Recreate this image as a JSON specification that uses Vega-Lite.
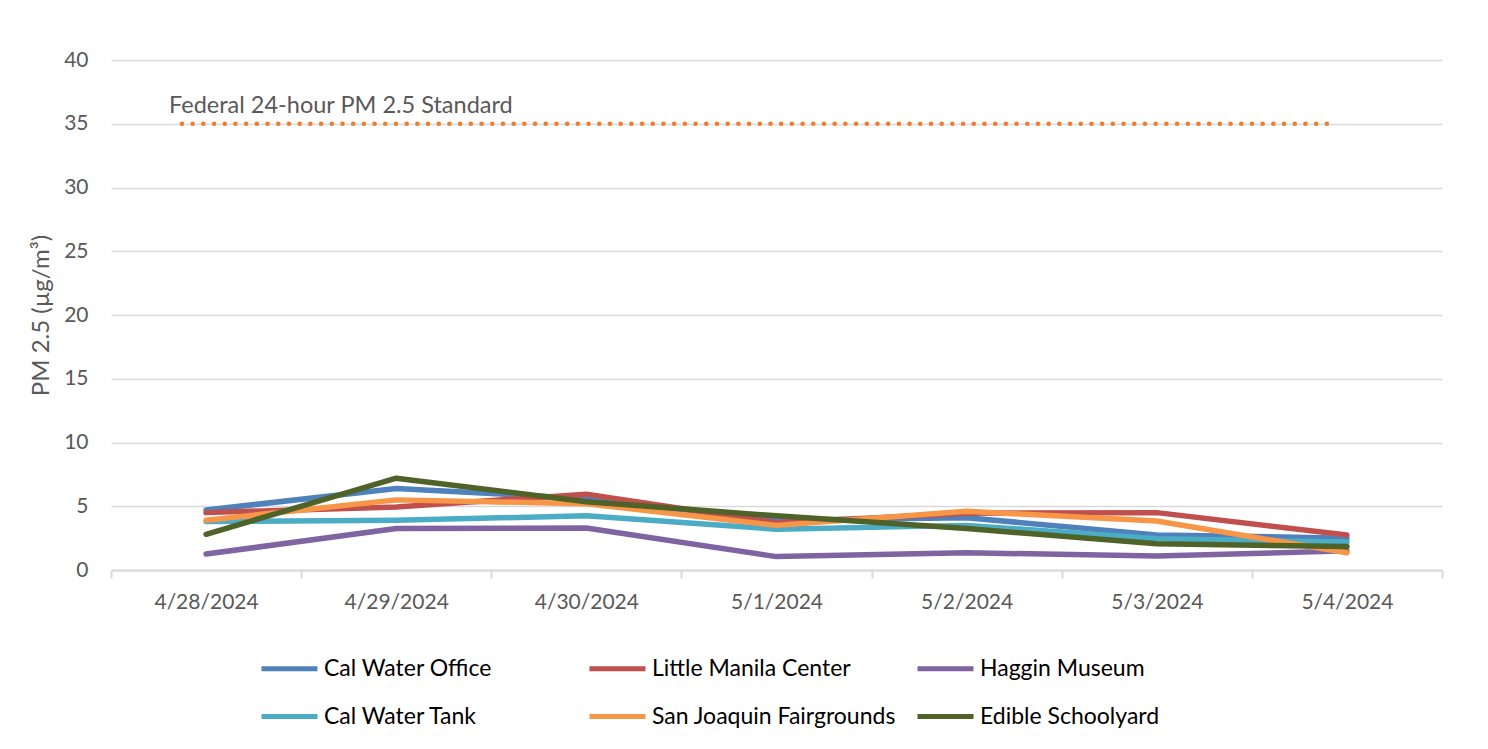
{
  "$schema": "https://vega.github.io/schema/vega-lite/v6.json",
  "width": 1331,
  "height": 510,
  "autosize": {"type": "none"},
  "padding": {"left": 111, "top": 60, "right": 46, "bottom": 179},
  "background": "white",
  "config": {
    "font": "Lato",
    "view": {"stroke": null},
    "axis": {"labelFont": "Lato", "titleFont": "Lato", "labelColor": "#595959", "titleColor": "#595959"}
  },
  "datasets": {
    "pm": [
      {"date": "4/28/2024", "site": "Cal Water Office", "value": 4.7},
      {"date": "4/29/2024", "site": "Cal Water Office", "value": 6.4},
      {"date": "4/30/2024", "site": "Cal Water Office", "value": 5.6},
      {"date": "5/1/2024", "site": "Cal Water Office", "value": 3.9},
      {"date": "5/2/2024", "site": "Cal Water Office", "value": 4.1},
      {"date": "5/3/2024", "site": "Cal Water Office", "value": 2.75},
      {"date": "5/4/2024", "site": "Cal Water Office", "value": 2.5},
      {"date": "4/28/2024", "site": "Little Manila Center", "value": 4.5},
      {"date": "4/29/2024", "site": "Little Manila Center", "value": 4.95},
      {"date": "4/30/2024", "site": "Little Manila Center", "value": 5.95},
      {"date": "5/1/2024", "site": "Little Manila Center", "value": 3.7},
      {"date": "5/2/2024", "site": "Little Manila Center", "value": 4.45},
      {"date": "5/3/2024", "site": "Little Manila Center", "value": 4.5},
      {"date": "5/4/2024", "site": "Little Manila Center", "value": 2.75},
      {"date": "4/28/2024", "site": "Haggin Museum", "value": 1.25},
      {"date": "4/29/2024", "site": "Haggin Museum", "value": 3.25},
      {"date": "4/30/2024", "site": "Haggin Museum", "value": 3.3},
      {"date": "5/1/2024", "site": "Haggin Museum", "value": 1.05},
      {"date": "5/2/2024", "site": "Haggin Museum", "value": 1.35},
      {"date": "5/3/2024", "site": "Haggin Museum", "value": 1.1},
      {"date": "5/4/2024", "site": "Haggin Museum", "value": 1.5},
      {"date": "4/28/2024", "site": "Cal Water Tank", "value": 3.8},
      {"date": "4/29/2024", "site": "Cal Water Tank", "value": 3.9},
      {"date": "4/30/2024", "site": "Cal Water Tank", "value": 4.25},
      {"date": "5/1/2024", "site": "Cal Water Tank", "value": 3.2},
      {"date": "5/2/2024", "site": "Cal Water Tank", "value": 3.5},
      {"date": "5/3/2024", "site": "Cal Water Tank", "value": 2.45},
      {"date": "5/4/2024", "site": "Cal Water Tank", "value": 2.2},
      {"date": "4/28/2024", "site": "San Joaquin Fairgrounds", "value": 3.9},
      {"date": "4/29/2024", "site": "San Joaquin Fairgrounds", "value": 5.5},
      {"date": "4/30/2024", "site": "San Joaquin Fairgrounds", "value": 5.2},
      {"date": "5/1/2024", "site": "San Joaquin Fairgrounds", "value": 3.5},
      {"date": "5/2/2024", "site": "San Joaquin Fairgrounds", "value": 4.6},
      {"date": "5/3/2024", "site": "San Joaquin Fairgrounds", "value": 3.85},
      {"date": "5/4/2024", "site": "San Joaquin Fairgrounds", "value": 1.35},
      {"date": "4/28/2024", "site": "Edible Schoolyard", "value": 2.8},
      {"date": "4/29/2024", "site": "Edible Schoolyard", "value": 7.2},
      {"date": "4/30/2024", "site": "Edible Schoolyard", "value": 5.35},
      {"date": "5/1/2024", "site": "Edible Schoolyard", "value": 4.25},
      {"date": "5/2/2024", "site": "Edible Schoolyard", "value": 3.25},
      {"date": "5/3/2024", "site": "Edible Schoolyard", "value": 2.05},
      {"date": "5/4/2024", "site": "Edible Schoolyard", "value": 1.85}
    ],
    "standard": [
      {"start": "4/28/2024", "end": "5/4/2024", "value": 35, "label": "Federal 24-hour PM 2.5 Standard"}
    ]
  },
  "layer": [
    {
      "data": {"name": "pm"},
      "mark": {"type": "line", "strokeWidth": 5.5, "strokeCap": "round", "strokeJoin": "round"},
      "encoding": {
        "x": {
          "field": "date", "type": "ordinal", "bandPosition": 0.5,
          "scale": {"type": "band", "domain": ["4/28/2024", "4/29/2024", "4/30/2024", "5/1/2024", "5/2/2024", "5/3/2024", "5/4/2024"], "paddingInner": 0, "paddingOuter": 0},
          "axis": {
            "title": null, "labelAngle": 0, "labelFontSize": 21, "labelPadding": 13, "bandPosition": 0.5,
            "tickBand": "extent", "tickSize": 8, "tickColor": "#D9D9D9", "tickWidth": 2,
            "domainColor": "#D9D9D9", "domainWidth": 2, "grid": false
          }
        },
        "y": {
          "field": "value", "type": "quantitative",
          "scale": {"domain": [0, 40], "nice": false},
          "axis": {
            "title": "PM 2.5 (µg/m³)", "titleFontSize": 24, "titleFontWeight": "normal", "titlePadding": 10,
            "values": [0, 5, 10, 15, 20, 25, 30, 35, 40], "labelFontSize": 21, "labelPadding": 23,
            "ticks": false, "domain": false, "grid": true, "gridColor": "#D9D9D9", "gridWidth": 1.5
          }
        },
        "color": {
          "field": "site", "type": "nominal",
          "scale": {
            "domain": ["Cal Water Office", "Little Manila Center", "Haggin Museum", "Cal Water Tank", "San Joaquin Fairgrounds", "Edible Schoolyard"],
            "range": ["#4F81BD", "#C0504D", "#8064A2", "#4BACC6", "#F79646", "#4F6228"]
          },
          "legend": {
            "title": null, "orient": "none", "legendX": 148, "legendY": 578, "direction": "horizontal",
            "columns": 3, "gridAlign": "all", "columnPadding": 10, "rowPadding": 5,
            "symbolType": "stroke", "symbolSize": 3136, "symbolStrokeWidth": 5, "labelOffset": 4,
            "labelFont": "Lato", "labelFontSize": 23, "labelColor": "#000000", "labelLimit": 400
          }
        },
        "order": {"field": "site"}
      }
    },
    {
      "data": {"name": "standard"},
      "mark": {"type": "rule", "color": "#ED7D31", "strokeWidth": 4.5, "strokeCap": "round", "strokeDash": [0.1, 10.6]},
      "encoding": {
        "x": {"field": "start", "type": "ordinal", "bandPosition": 0.373},
        "x2": {"field": "end", "bandPosition": 0.437},
        "y": {"field": "value", "type": "quantitative"}
      }
    },
    {
      "data": {"name": "standard"},
      "mark": {"type": "text", "align": "left", "baseline": "alphabetic", "dy": -11, "fontSize": 23.5, "font": "Lato", "color": "#595959"},
      "encoding": {
        "x": {"field": "start", "type": "ordinal", "bandPosition": 0.305},
        "y": {"field": "value", "type": "quantitative"},
        "text": {"field": "label"}
      }
    }
  ]
}
